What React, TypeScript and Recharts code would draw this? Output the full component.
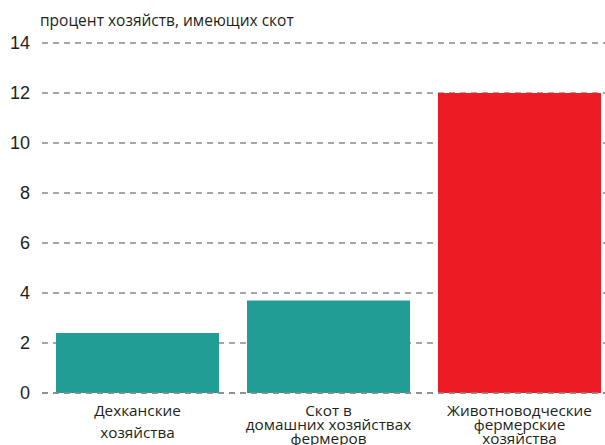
import { BarChart, Bar, XAxis, YAxis, CartesianGrid, Cell, ReferenceLine } from "recharts";

const categories = [
  ["Дехканские", "хозяйства"],
  ["Скот в", "домашних хозяйствах", "фермеров"],
  ["Животноводческие", "фермерские", "хозяйства"],
];
const values = [2.4, 3.7, 12];
const barColors = ["#219d96", "#219d96", "#ed1c24"];
const yTicks = [0, 2, 4, 6, 8, 10, 12, 14];

const chartData = categories.map((lines, i) => ({
  name: lines.join(" "),
  value: values[i],
}));

const FONT = "'Open Sans', sans-serif";

// multi-line category label, centred under the bar
function CategoryTick({ x, y, index }: any) {
  const lines = categories[index] ?? [];
  const step = lines.length === 2 ? 22 : 14;
  return (
    <text x={x} y={y} textAnchor="middle" fontFamily={FONT} fontSize={15.3} fill="#231f20">
      {lines.map((l, i) => (
        <tspan key={i} x={x} y={y + 15 + i * step}>
          {l}
        </tspan>
      ))}
    </text>
  );
}

export default function App() {
  return (
    <div style={{ position: "fixed", left: 0, top: 0, width: 605, height: 445, overflow: "hidden", background: "#fff" }}>
      <div
        style={{
          position: "absolute",
          left: 40,
          top: 9,
          fontFamily: FONT,
          fontSize: 15.5,
          color: "#231f20",
          whiteSpace: "nowrap",
        }}
      >
        процент хозяйств, имеющих скот
      </div>
      <BarChart
        width={620}
        height={445}
        data={chartData}
        margin={{ top: 43, right: 5, left: 0, bottom: 0 }}
        barCategoryGap={14}
      >
        <CartesianGrid vertical={false} stroke="#8a8a8a" strokeWidth={1.5} strokeDasharray="6 5" />
        <XAxis dataKey="name" height={52} axisLine={false} tickLine={false} interval={0} tick={<CategoryTick />} />
        <YAxis
          width={42}
          domain={[0, 14]}
          ticks={yTicks}
          axisLine={false}
          tickLine={false}
          tickMargin={6}
          tick={{ fontFamily: "'Liberation Sans Narrow', 'Liberation Sans', sans-serif", fontSize: 18, fill: "#231f20" }}
        />
        <Bar dataKey="value" isAnimationActive={false}>
          {chartData.map((d, i) => (
            <Cell key={d.name} fill={barColors[i]} />
          ))}
        </Bar>
        <ReferenceLine y={0} stroke="#8a8a8a" strokeWidth={1.5} strokeDasharray="6 5" />
      </BarChart>
    </div>
  );
}
